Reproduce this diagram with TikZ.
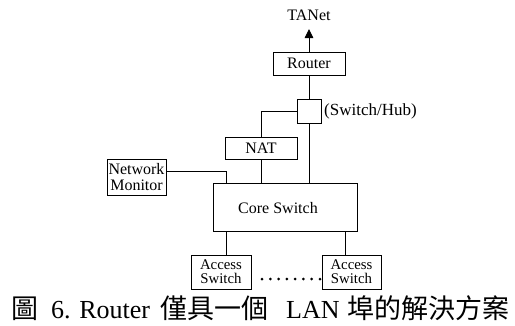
\documentclass[tikz,border=0pt]{standalone}
\usepackage{fontspec}
\setmainfont{Liberation Serif}
\newfontfamily\cjk{Noto Sans CJK TC}
\usetikzlibrary{arrows.meta,calc}
\begin{document}
\begin{tikzpicture}[x=1pt,y=-1pt,
  box/.style={draw, line width=0.9pt, inner sep=0pt, align=center,
    font=\fontsize{16}{16}\selectfont},
  smallbox/.style={box, font=\fontsize{14.8}{14.2}\selectfont},
  wire/.style={line width=0.9pt},
  lbl/.style={inner sep=0pt, font=\fontsize{16}{16}\selectfont},
  captext/.style={inner sep=0pt, anchor=base west, font=\fontsize{26}{26}\selectfont},
  capcjk/.style={inner sep=0pt, anchor=base west, font=\fontsize{27}{27}\selectfont\cjk}]
\useasboundingbox (0,0) rectangle (515,325);

% devices
\node[lbl] (tanet) at (309,15) {TANet};
\coordinate (tip) at (309,29);
\node[box, minimum width=72, minimum height=23] (router) at (309,63.5) {Router};
\node[box, minimum width=24, minimum height=24] (hub) at (309,111) {};
\node[lbl, anchor=west, font=\fontsize{17}{17}\selectfont] (hublbl) at (324,111) {(Switch/Hub)};
\node[box, minimum width=72, minimum height=22] (nat) at (261,148) {NAT};
\node[box, minimum width=59, minimum height=36] (nm) at (136.5,177) {Network\\Monitor};
\node[box, minimum width=144, minimum height=48] (core) at (285,207) {};
\node[lbl] (corelbl) at (278,208) {Core Switch};
\node[smallbox, minimum width=60, minimum height=34] (acc1) at (221,272) {Access\\Switch};
\node[smallbox, minimum width=59, minimum height=34] (acc2) at (351.5,272) {Access\\Switch};

% connectors
\draw[wire, -{Triangle[length=9pt,width=8.5pt]}] (router.north) -- (tip);
\draw[wire] (router.south) -- (hub.north);
\draw[wire] (nat.north) |- (hub.west);
\draw[wire] (hub.south) -- (hub.south |- core.north);
\draw[wire] (nat.south) -- (nat.south |- core.north);
\coordinate (nmjoin) at (226,171);
\draw[wire] (nm.east |- nmjoin) -| (core.north -| nmjoin);
\coordinate (down1) at (226,240);
\coordinate (down2) at (345,240);
\draw[wire] (core.south -| down1) -- (acc1.north -| down1);
\draw[wire] (core.south -| down2) -- (acc2.north -| down2);

% dotted gap between access switches
\coordinate (dotsA) at (262,279);
\coordinate (dotsB) at (320,279);
\foreach \i in {0,...,7} {
  \fill ($(dotsA)!\i/7!(dotsB)$) circle (1.5);
}

% caption
\node[capcjk] (c1) at (11,318) {圖};
\node[captext] (c2) at (51,318) {6. Router};
\node[capcjk] (c3) at (160,318) {僅具一個};
\node[captext] (c4) at (286,318) {LAN};
\node[capcjk] (c5) at (347,318) {埠的解決方案};
\end{tikzpicture}
\end{document}
